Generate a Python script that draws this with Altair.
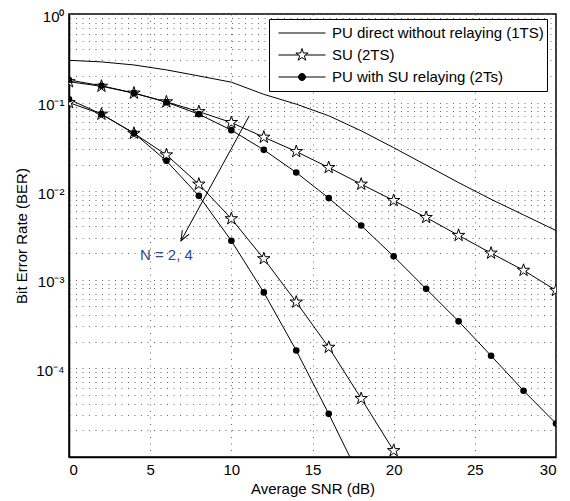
import math
import altair as alt
import pandas as pd

# ---------------- data ----------------
snr = [0, 2, 4, 6, 8, 10, 12, 14, 16, 18, 20, 22, 24, 26, 28, 30]

pu_direct = [0.30, 0.288, 0.266, 0.234, 0.200, 0.170, 0.124, 0.096, 0.071, 0.048,
             0.031, 0.0197, 0.0125, 0.0081, 0.0054, 0.0036]

su_n2 = [0.172, 0.153, 0.128, 0.102, 0.079, 0.0596, 0.0407, 0.028, 0.0185, 0.012,
         0.00785, 0.00505, 0.00317, 0.0020, 0.00128, 0.00076]

pu_relay_n2 = [0.18, 0.155, 0.128, 0.101, 0.074, 0.0489, 0.0293, 0.01625, 0.00836, 0.0041,
               0.00184, 0.00079, 0.00034, 0.000139, 0.000056, 0.0000239]

snr_su_n4 = [0, 2, 4, 6, 8, 10, 12, 14, 16, 18, 20]
su_n4 = [0.100, 0.074, 0.045, 0.0257, 0.012, 0.00489, 0.00173, 0.00056, 0.000173,
         0.0000457, 0.0000118]

snr_pu_n4 = [0, 2, 4, 6, 8, 10, 12, 14, 16, 18]
pu_relay_n4 = [0.109, 0.074, 0.0452, 0.022, 0.00887, 0.00276, 0.00072, 0.000159,
               0.0000307, 0.0000055]

legend_labels = ["PU direct without relaying (1TS)", "SU (2TS)", "PU with SU relaying (2Ts)"]

annot_text = "N = 2, 4"
arrow_x = [11.1, 6.9]
arrow_y = [0.0708, 0.00276]
annot_x = [6.0]
annot_y = [0.00192]

y_ticks = [m * 10.0 ** e for e in range(-5, 0) for m in range(1, 10)] + [1.0]
x_ticks = [0, 5, 10, 15, 20, 25, 30]

# ---------------- build table ----------------
rows = []
def add(xs, ys, typ, curve):
    for x, y in zip(xs, ys):
        rows.append({"snr": x, "ber": y, "type": typ, "curve": curve})

add(snr, pu_direct, legend_labels[0], "pu_direct")
add(snr, su_n2, legend_labels[1], "su_n2")
add(snr, pu_relay_n2, legend_labels[2], "pu_n2")
add(snr_su_n4, su_n4, legend_labels[1], "su_n4")
add(snr_pu_n4, pu_relay_n4, legend_labels[2], "pu_n4")
df = pd.DataFrame(rows)

# ---------------- shapes ----------------
def star_pts(R, ratio=0.382):
    pts = []
    for k in range(10):
        ang = math.radians(-90 + 36 * k)
        r = R if k % 2 == 0 else R * ratio
        pts.append((r * math.cos(ang), r * math.sin(ang)))
    return pts

def star_path(R):
    pts = star_pts(R)
    return "M" + " L".join(f"{x:.4f},{y:.4f}" for x, y in pts) + " Z"

STAR = star_path(1.0)
LS = 0.275
half_w = 0.145
LEG_LINE = "M-1,0 L1,0"
LEG_STAR = f"M-1,0 L{-half_w},0 M{half_w},0 L1,0 " + star_path(LS)
rc = 0.149
LEG_DOT = f"M-1,0 L1,0 M{rc},0 A{rc},{rc} 0 1,1 {-rc},0 A{rc},{rc} 0 1,1 {rc},0 Z"
ARROW_HEAD = "M-0.4,-1 L0,0 L0.4,-1"

FONT = "Liberation Sans"

# ---------------- encodings ----------------
W, H = 487, 443
x_enc = alt.X("snr:Q", scale=alt.Scale(domain=[0, 30], nice=False),
              axis=alt.Axis(values=x_ticks, title="Average SNR (dB)", format="d", grid=True))
y_lab = ("abs(datum.value/pow(10, round(log(datum.value)/LN10)) - 1) < 0.01 ? "
         "(round(log(datum.value)/LN10) == 0 ? '10\u2070' : "
         "round(log(datum.value)/LN10) == -1 ? '10\u207b\u00b9' : "
         "round(log(datum.value)/LN10) == -2 ? '10\u207b\u00b2' : "
         "round(log(datum.value)/LN10) == -3 ? '10\u207b\u00b3' : "
         "round(log(datum.value)/LN10) == -4 ? '10\u207b\u2074' : '') : ''")
y_enc = alt.Y("ber:Q", scale=alt.Scale(type="log", domain=[1e-5, 1], nice=False),
              axis=alt.Axis(values=y_ticks, labelExpr=y_lab, title="Bit Error Rate (BER)",
                            labelOverlap=False, grid=True, labelOffset=2, titlePadding=6))

base = alt.Chart(df)

lines = base.mark_line(color="black", strokeWidth=1, clip=True).encode(
    x=x_enc, y=y_enc, detail="curve:N", order="snr:Q")

stars = base.transform_filter(alt.datum.type == legend_labels[1]).mark_point(
    shape=STAR, size=170, filled=True, fill="white", stroke="black", strokeWidth=1,
    opacity=1, clip=True).encode(x=x_enc, y=y_enc)

dots = base.transform_filter(alt.datum.type == legend_labels[2]).mark_point(
    shape="circle", size=44, filled=True, color="black", opacity=1, clip=True).encode(
    x=x_enc, y=y_enc)

arrow_df = pd.DataFrame({"snr": arrow_x, "ber": arrow_y})
arrow_line = alt.Chart(arrow_df).mark_line(color="black", strokeWidth=1).encode(x=x_enc, y=y_enc)

# angle of arrow head from pixel geometry
dx = (arrow_x[1] - arrow_x[0]) * W / 30
dy = -(math.log10(arrow_y[1]) - math.log10(arrow_y[0])) * H / 5
ang = math.degrees(math.atan2(-dx, dy)) % 360
head_df = pd.DataFrame({"snr": [arrow_x[1]], "ber": [arrow_y[1]]})
arrow_head = alt.Chart(head_df).mark_point(
    shape=ARROW_HEAD, size=380, angle=ang, filled=False, stroke="black", strokeWidth=1,
    opacity=1).encode(x=x_enc, y=y_enc)

text_df = pd.DataFrame({"snr": annot_x, "ber": annot_y, "t": [annot_text]})
annot = alt.Chart(text_df).mark_text(
    font=FONT, fontSize=15, color="#2F4B8C").encode(x=x_enc, y=y_enc, text="t:N")

# legend-only layer
leg_df = pd.DataFrame({"type": legend_labels})
legend_props = dict(
    title=None, orient="none", legendX=200, legendY=5, labelFont=FONT, labelFontSize=15,
    labelColor="black", symbolSize=2209, symbolStrokeWidth=1,
    symbolOpacity=1, fillColor="white", strokeColor="black", padding=3, symbolOffset=6,
    labelOffset=6, clipHeight=22, rowPadding=0, labelLimit=400)
legend_layer = alt.Chart(leg_df).mark_point(opacity=0, strokeWidth=1).encode(
    shape=alt.Shape("type:N", scale=alt.Scale(domain=legend_labels,
                                              range=[LEG_LINE, LEG_STAR, LEG_DOT]),
                    legend=alt.Legend(**legend_props)),
    fill=alt.Fill("type:N", scale=alt.Scale(domain=legend_labels,
                                            range=["white", "white", "black"]),
                  legend=alt.Legend(**legend_props)),
    stroke=alt.Stroke("type:N", scale=alt.Scale(domain=legend_labels,
                                                range=["black", "black", "black"]),
                      legend=alt.Legend(**legend_props)),
)

chart = alt.layer(lines, stars, dots, arrow_line, arrow_head, annot, legend_layer).properties(
    width=W, height=H,
    background="white",
    autosize=alt.AutoSizeParams(type="none"),
    padding={"left": 61, "top": 6, "right": 6, "bottom": 40},
).configure_view(stroke="black", strokeWidth=1.5).configure_axis(
    gridDash=[1, 5.5], gridColor="#666", gridWidth=1, ticks=False,
    domainColor="black", domainWidth=1.5, labelFont=FONT, labelFontSize=15,
    labelColor="black", titleFont=FONT, titleFontSize=15, titleFontWeight="normal",
    titleColor="black", labelPadding=5,
).configure_axisX(titlePadding=4)

chart.save("out.html", embed_options={"renderer": "svg", "actions": False})
